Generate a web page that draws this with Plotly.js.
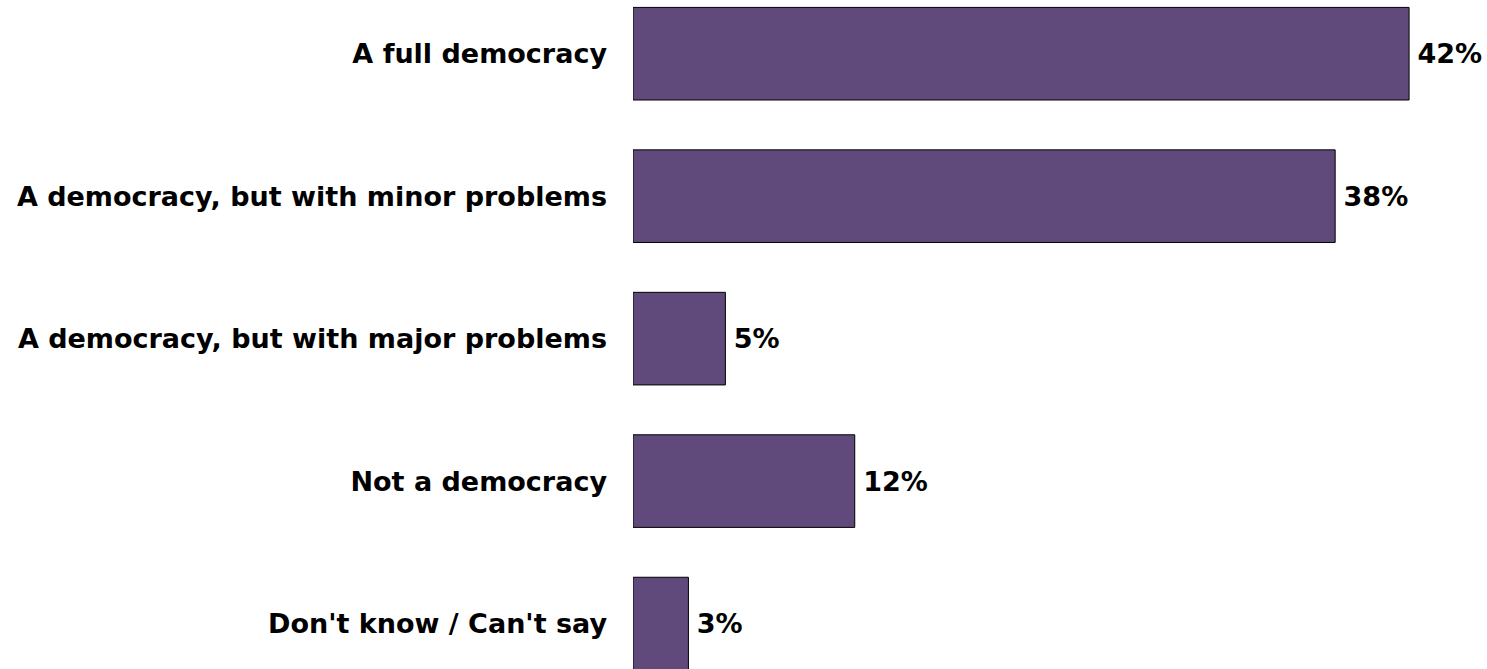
<!DOCTYPE html>
<html>
<head>
<meta charset="utf-8">
<script src="https://cdn.plot.ly/plotly-3.0.1.min.js"></script>
<style>
html,body{margin:0;padding:0;background:#fff;}
#chart{width:1487px;height:669px;}
</style>
</head>
<body>
<div id="chart"></div>
<script>
const categories = [
  "A full democracy",
  "A democracy, but with minor problems",
  "A democracy, but with major problems",
  "Not a democracy",
  "Don't know / Can't say"
];
const values = [42, 38, 5, 12, 3];
const valueLabels = ["42%", "38%", "5%", "12%", "3%"];

const font = {family: "DejaVu Sans, sans-serif", size: 27, color: "#000000", weight: "bold"};

const trace = {
  type: "bar",
  orientation: "h",
  y: categories,
  x: values,
  text: valueLabels.map(t => "\u2009" + t),
  textposition: "outside",
  cliponaxis: false,
  textfont: font,
  marker: {color: "#604a7b", line: {color: "#000000", width: 1}},
  hoverinfo: "skip"
};

const layout = {
  width: 1487,
  height: 669,
  margin: {l: 633, r: 4, t: 0, b: 0},
  paper_bgcolor: "#ffffff",
  plot_bgcolor: "#ffffff",
  showlegend: false,
  bargap: 0.35,
  xaxis: {range: [0, 46], visible: false, fixedrange: true},
  yaxis: {
    type: "category",
    categoryorder: "array",
    categoryarray: categories,
    range: [4.319, -0.377],
    showgrid: false,
    zeroline: false,
    showline: false,
    ticks: "",
    ticklabelstandoff: 25,
    tickfont: font,
    fixedrange: true
  }
};

Plotly.newPlot("chart", [trace], layout, {displayModeBar: false, staticPlot: true});
</script>
</body>
</html>
